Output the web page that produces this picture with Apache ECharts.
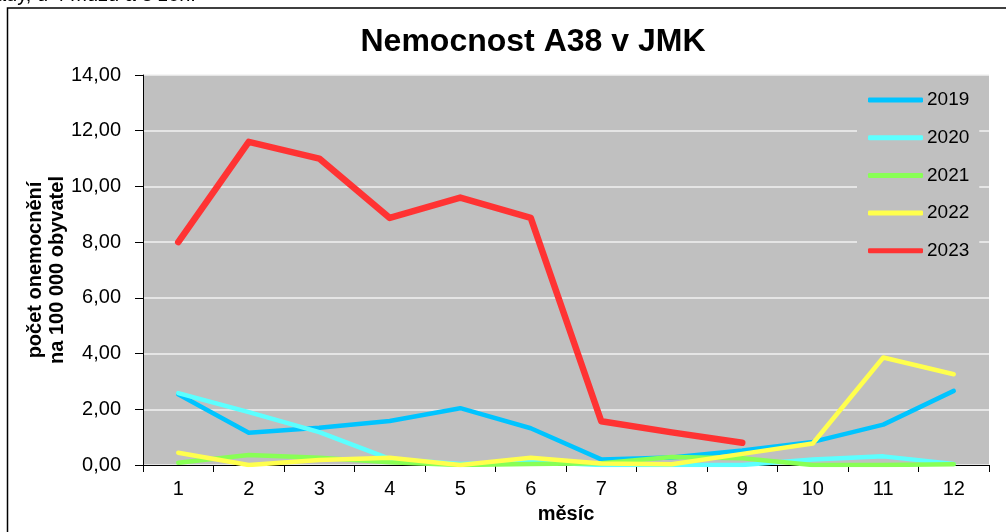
<!DOCTYPE html>
<html>
<head>
<meta charset="utf-8">
<script src="https://cdn.jsdelivr.net/npm/echarts@6/dist/echarts.min.js"></script>
<style>
html,body{margin:0;padding:0;background:#fff;}
#chart{width:1006px;height:532px;}
</style>
</head>
<body>
<div id="chart"></div>
<script>
var months = ['1','2','3','4','5','6','7','8','9','10','11','12'];
var yTicks = [0, 2, 4, 6, 8, 10, 12, 14];
var years = ['2019','2020','2021','2022','2023'];
var v2019 = [2.54, 1.16, 1.34, 1.58, 2.04, 1.32, 0.20, 0.27, 0.52, 0.83, 1.45, 2.66];
var v2020 = [2.58, 1.90, 1.18, 0.22, 0.04, 0.12, 0.00, 0.00, 0.00, 0.20, 0.31, 0.04];
var v2021 = [0.08, 0.36, 0.26, 0.10, 0.00, 0.04, 0.06, 0.29, 0.24, 0.00, 0.00, 0.03];
var v2022 = [0.44, 0.00, 0.18, 0.26, 0.00, 0.26, 0.05, 0.03, 0.40, 0.77, 3.86, 3.26];
var v2023 = [8.00, 11.60, 11.00, 8.87, 9.60, 8.87, 1.57, 1.17, 0.80, null, null, null];
var colors = ['#00C4FF', '#5CFFFF', '#88FF55', '#FFFF4D', '#FF3333'];
var widths = [4.5, 4.5, 4.5, 4.5, 6.5];
var seriesValues = [v2019, v2020, v2021, v2022, v2023];

var FONT = '"Liberation Sans", Arial, sans-serif';
var chart = echarts.init(document.getElementById('chart'));

var series = years.map(function (y, i) {
  return {
    name: y,
    type: 'line',
    data: seriesValues[i],
    symbol: 'none',
    showSymbol: false,
    connectNulls: false,
    lineStyle: { color: colors[i], width: widths[i], cap: 'round', join: 'round' },
    itemStyle: { color: colors[i] },
    z: 2 + i,
    animation: false
  };
});

chart.setOption({
  animation: false,
  textStyle: { fontFamily: FONT },
  grid: { left: 143, right: 17, top: 75, bottom: 67, show: true, backgroundColor: '#C0C0C0', borderWidth: 0 },
  graphic: [
    { type: 'rect', shape: { x: 7.5, y: 8, width: 1200, height: 700 }, style: { fill: 'none', stroke: '#000', lineWidth: 1.5 }, z: 0 },
    { type: 'text', x: -5, y: -5, style: { text: 'ady, u 4 mužů a 3 žen.', font: '20px ' + FONT, fill: '#000', textVerticalAlign: 'middle' } },
    { type: 'text', x: 533, y: 42, style: { text: 'Nemocnost A38 v JMK', font: 'bold 32px ' + FONT, fill: '#000', textAlign: 'center', textVerticalAlign: 'middle' } }
  ],
  legend: {
    orient: 'vertical',
    left: 857,
    top: 80,
    padding: [10, 10, 10, 11],
    backgroundColor: '#C0C0C0',
    itemWidth: 55,
    itemHeight: 5,
    itemGap: 17.7,
    icon: 'roundRect',
    data: years,
    textStyle: { fontSize: 19, lineHeight: 20, color: '#000', fontFamily: FONT, padding: [0, 0, 0, -1] }
  },
  xAxis: {
    type: 'category',
    data: months,
    boundaryGap: true,
    name: 'měsíc',
    nameLocation: 'middle',
    nameGap: 39,
    nameMoveOverlap: false,
    nameTextStyle: { fontSize: 20, fontWeight: 'bold', color: '#000', fontFamily: FONT },
    axisLine: { show: true, lineStyle: { color: '#000', width: 1 } },
    axisTick: { show: true, alignWithLabel: false, length: 7, lineStyle: { color: '#000' } },
    axisLabel: { fontSize: 20, color: '#000', margin: 14, fontFamily: FONT },
    splitLine: { show: false }
  },
  yAxis: {
    type: 'value',
    min: 0,
    max: 14,
    interval: 2,
    name: 'počet onemocnění\nna 100 000 obyvatel',
    nameLocation: 'middle',
    nameGap: 75,
    nameMoveOverlap: false,
    nameRotate: 90,
    nameTextStyle: { fontSize: 20, fontWeight: 'bold', color: '#000', lineHeight: 22, fontFamily: FONT },
    axisLine: { show: true, lineStyle: { color: '#000', width: 1 } },
    axisTick: { show: true, length: 8, lineStyle: { color: '#000' } },
    axisLabel: {
      fontSize: 20, color: '#000', margin: 22, fontFamily: FONT,
      formatter: function (v) { return yTicks.indexOf(v) >= 0 ? v.toFixed(2).replace('.', ',') : ''; }
    },
    splitLine: { show: true, lineStyle: { color: '#F2F2F2', width: 1.5 } }
  },
  series: series
});
</script>
</body>
</html>
